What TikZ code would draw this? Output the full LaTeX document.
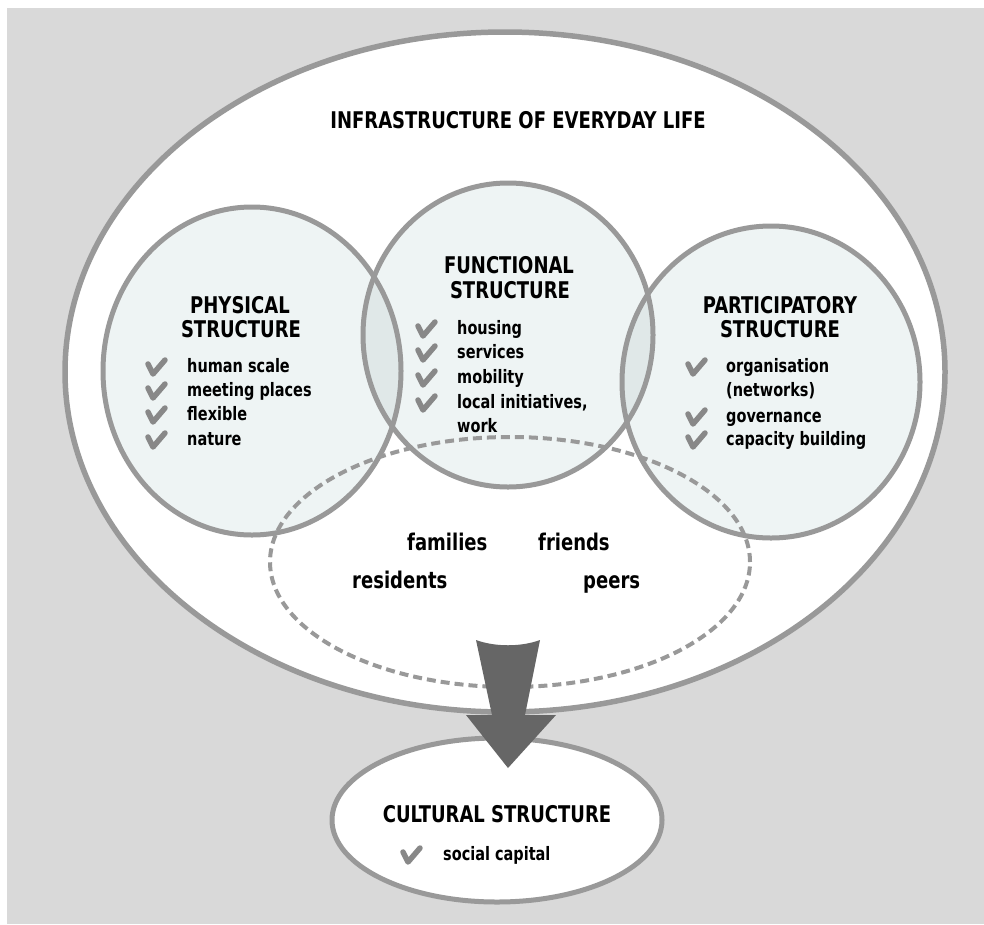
\documentclass[tikz,border=0pt]{standalone}
\usepackage{fontspec}
\newfontfamily\dvc{DejaVu Sans Condensed}[FakeStretch=0.87]
\definecolor{bggrey}{HTML}{D9D9D9}
\definecolor{ringgrey}{HTML}{999999}
\definecolor{bubblefill}{HTML}{EEF4F4}
\definecolor{lensfill}{HTML}{E0E8E8}
\definecolor{tickgrey}{HTML}{888888}
\definecolor{arrowgrey}{HTML}{666666}
\tikzset{
  ring/.style={draw=ringgrey, line width=5pt},
  bubble/.style={fill=bubblefill},
  hdr/.style={font=\dvc\bfseries\fontsize{23}{23}\selectfont, anchor=base, inner sep=0pt},
  item/.style={font=\dvc\bfseries\fontsize{18.5}{18.5}\selectfont, anchor=base west, inner sep=0pt},
  word/.style={font=\dvc\bfseries\fontsize{23}{23}\selectfont, anchor=base west, inner sep=0pt},
  check/.pic={\draw[tickgrey, line width=5.5pt, line cap=round, line join=round]
     (-9,-3) -- (-4,7) -- (8,-7);},
}
\begin{document}
\begin{tikzpicture}[x=1pt,y=-1pt]
\useasboundingbox (0,0) rectangle (984,924);
\fill[white] (0,0) rectangle (984,924);
\fill[bggrey] (7,8) rectangle (984,924);

% outer ellipse
\filldraw[fill=white, ring, line width=5.5pt] (505,372) ellipse [x radius=440pt, y radius=340pt];

% three structure bubbles
\fill[bubble] (252,371) ellipse [x radius=149pt, y radius=164pt];
\fill[bubble] (508,335) ellipse [x radius=145pt, y radius=152pt];
\fill[bubble] (771,382) ellipse [x radius=149pt, y radius=156pt];
\begin{scope}
  \clip (252,371) ellipse [x radius=149pt, y radius=164pt];
  \fill[lensfill] (508,335) ellipse [x radius=145pt, y radius=152pt];
\end{scope}
\begin{scope}
  \clip (771,382) ellipse [x radius=149pt, y radius=156pt];
  \fill[lensfill] (508,335) ellipse [x radius=145pt, y radius=152pt];
\end{scope}

% dashed social ellipse
\draw[ringgrey, line width=4pt, dash pattern=on 9pt off 5pt] (510,562) ellipse [x radius=240pt, y radius=125pt];

\draw[ring] (252,371) ellipse [x radius=149pt, y radius=164pt];
\draw[ring] (508,335) ellipse [x radius=145pt, y radius=152pt];
\draw[ring] (771,382) ellipse [x radius=149pt, y radius=156pt];

% cultural ellipse
\filldraw[fill=white, ring] (497,820) ellipse [x radius=165pt, y radius=82pt];

% block arrow
\coordinate (atl) at (476,640);
\coordinate (atr) at (540,640);
\coordinate (tip) at (508,768);
\fill[arrowgrey] (atl) .. controls (495,647) and (521,647) .. (atr)
  -- (525,715) -- (556,715) -- (tip) -- (466,715) -- (492,715) -- cycle;

% title
\node[hdr] (title) at (518,128) {INFRASTRUCTURE OF EVERYDAY LIFE};

% physical
\node[hdr] (phys1) at (240,313) {PHYSICAL};
\node[hdr] (phys2) at (241,337) {STRUCTURE};
\node[item] (p1) at (187,372) {human scale};
\node[item] (p2) at (187,396) {meeting places};
\node[item] (p3) at (187,420) {flexible};
\node[item] (p4) at (187,445) {nature};
\pic at (157,367) {check};
\pic at (157,391) {check};
\pic at (157,415) {check};
\pic at (157,440) {check};

% functional
\node[hdr] (func1) at (509,273) {FUNCTIONAL};
\node[hdr] (func2) at (510,298) {STRUCTURE};
\node[item] (f1) at (457,334) {housing};
\node[item] (f2) at (457,358) {services};
\node[item] (f3) at (457,383) {mobility};
\node[item] (f4) at (457,408) {local initiatives,};
\node[item] (f5) at (457,432) {work};
\pic at (427,329) {check};
\pic at (427,353) {check};
\pic at (427,378) {check};
\pic at (427,403) {check};

% participatory
\node[hdr] (part1) at (780,313) {PARTICIPATORY};
\node[hdr] (part2) at (780,337) {STRUCTURE};
\node[item] (q1) at (726,372) {organisation};
\node[item] (q2) at (726,396) {(networks)};
\node[item] (q3) at (726,422) {governance};
\node[item] (q4) at (726,445) {capacity building};
\pic at (697,367) {check};
\pic at (697,417) {check};
\pic at (697,440) {check};

% social words
\node[word] (w1) at (407,550) {families};
\node[word] (w2) at (538,550) {friends};
\node[word] (w3) at (352,588) {residents};
\node[word] (w4) at (583,588) {peers};

% cultural
\node[hdr] (cult) at (497,822) {CULTURAL STRUCTURE};
\node[item] (c1) at (443,860) {social capital};
\pic at (412,855) {check};
\end{tikzpicture}
\end{document}
